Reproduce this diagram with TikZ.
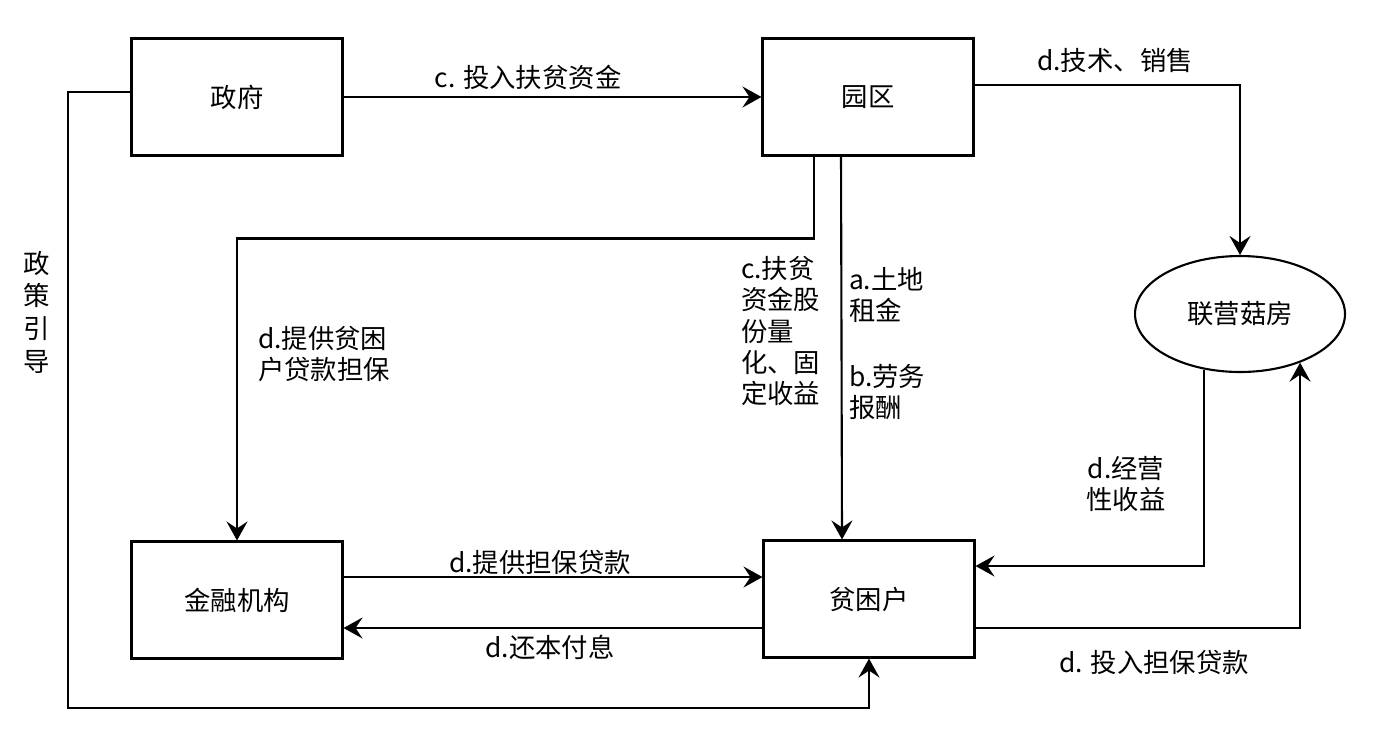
\documentclass[tikz,border=0pt]{standalone}
\usepackage{fontspec}
\usepackage{tikz}
\usetikzlibrary{arrows.meta,shapes.geometric}
\newfontfamily\cjk{Noto Sans CJK SC}

\begin{document}
\begin{tikzpicture}[
  x=0.02cm, y=-0.02cm,
  line width=1.2pt,
  >={Stealth[length=3.8mm,width=4.2mm,inset=1.4mm]},
  blk/.style={
    draw, rectangle, inner sep=0pt,
    minimum width=4.22cm, minimum height=2.34cm,
    font=\cjk\fontsize{15}{18}\selectfont
  },
  oval/.style={
    draw, ellipse, inner sep=0pt,
    minimum width=4.2cm, minimum height=2.32cm,
    font=\cjk\fontsize{15}{18}\selectfont
  },
  lbl/.style={
    inner sep=0pt, align=left,
    font=\cjk\fontsize{15}{17.8}\selectfont
  }
]
  \useasboundingbox (0,0) rectangle (1381,745);
  \node[blk] (zf) at (237,97){政府};
  \node[blk] (yq) at (868,97){园区};
  \node[blk] (jr) at (237,600){金融机构};
  \node[blk] (pk) at (869,599){贫困户};
  \node[oval] (gf) at (1240,314){联营菇房};
  \coordinate (c1) at (68,708);

  \draw[->] (zf.east)--(yq.west);
  \draw[->] ([yshift=0.24cm]yq.east) -| (gf.north);
  \draw[->] ([xshift=-1.08cm]yq.south) -- ++(0,82) -| (jr.north);
  \draw[->] ([xshift=-0.54cm]yq.south) -- ([xshift=-0.54cm]pk.north);
  \draw[->] (gf.237) |- ([yshift=0.66cm]pk.east);
  \draw[->] ([yshift=-0.58cm]pk.east) -| (gf.321);
  \draw[->] ([yshift=0.46cm]jr.east) -- ([yshift=0.46cm]jr.east -| pk.west);
  \draw[->] ([yshift=-0.58cm]pk.west) -- ([yshift=-0.58cm]pk.west -| jr.east);
  \draw[->] ([yshift=0.1cm]zf.west) -| (c1) -| (pk.south);

  \node[lbl] at (528,77){c. 投入扶贫资金};
  \node[lbl] at (1115,60){d.技术、销售};
  \node[lbl, anchor=west] at (257,354){d.提供贫困\\户贷款担保};
  \node[lbl, anchor=west] at (740,331){c.扶贫\\资金股\\份量\\化、固\\定收益};
  \node[lbl, anchor=west] at (848,295){a.土地\\租金};
  \node[lbl, anchor=west] at (848,392){b.劳务\\报酬};
  \node[lbl, align=center] at (1126,484){d.经营\\性收益};
  \node[lbl] at (540,562){d.提供担保贷款};
  \node[lbl] at (550,647){d.还本付息};
  \node[lbl] at (1154,662){d. 投入担保贷款};
  \node[lbl, align=center, font=\cjk\fontsize{15}{18.6}\selectfont] at (37,312){政\\策\\引\\导};
\end{tikzpicture}
\end{document}
